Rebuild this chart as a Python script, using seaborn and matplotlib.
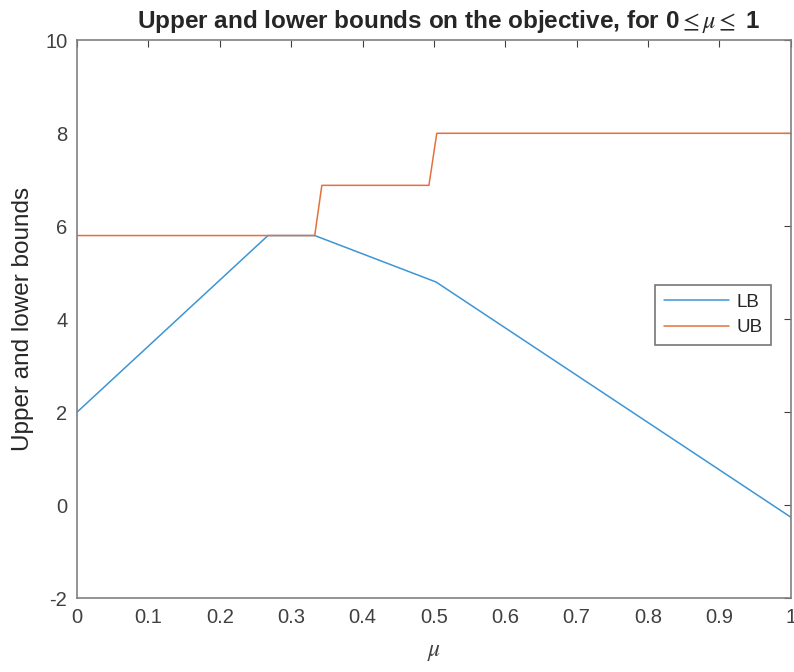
import numpy as np
import pandas as pd
import matplotlib
matplotlib.use("Agg")
import matplotlib.pyplot as plt
import seaborn as sns

# values
mu_lb = [0.0, 0.2675, 0.333, 0.503, 1.0]
lb = [2.0, 5.8, 5.8, 4.8, -0.26]
mu_ub = [0.0, 0.333, 0.343, 0.493, 0.504, 1.0]
ub = [5.8, 5.8, 6.88, 6.88, 8.0, 8.0]

x_ticks = np.round(np.arange(0, 1.01, 0.1), 1)
y_ticks = [-2, 0, 2, 4, 6, 8, 10]

df = pd.concat([
    pd.DataFrame({"mu": mu_lb, "value": lb, "series": "LB"}),
    pd.DataFrame({"mu": mu_ub, "value": ub, "series": "UB"}),
])

sns.set_theme(style="white")
plt.rcParams["font.family"] = ["Liberation Sans", "DejaVu Sans"]
plt.rcParams["mathtext.fontset"] = "stix"
plt.rcParams["axes.unicode_minus"] = False

fig = plt.figure(figsize=(7.94, 6.72), dpi=100)
ax = fig.add_axes([0.097, 0.110, 0.899, 0.830])

sns.lineplot(
    data=df, x="mu", y="value", hue="series",
    palette={"LB": "#3D95D4", "UB": "#E4703F"},
    estimator=None, sort=False, linewidth=1.1, ax=ax,
)

ax.set_xlim(0, 1)
ax.set_ylim(-2, 10)
ax.set_xticks(x_ticks)
ax.set_xticklabels([f"{t:g}" for t in x_ticks])
ax.set_yticks(y_ticks)
ax.tick_params(direction="in", length=5, width=0.8, colors="#404040",
               labelsize=14.5, top=True, right=True, pad=7)
for s in ax.spines.values():
    s.set_color("#808080")
    s.set_linewidth(1.2)

ax.set_xlabel(r"$\mu$", fontsize=17, color="#404040", labelpad=10)
ax.set_ylabel("Upper and lower bounds", fontsize=17.5, color="#262626", labelpad=8)
ax.set_title(r"Upper and lower bounds on the objective, for 0$\leq\mu\leq$ 1",
             fontsize=17.5, fontweight="bold", pad=9, x=0.52)

leg = ax.legend(loc="upper left", bbox_to_anchor=(0.797, 0.578), fontsize=13.5,
                frameon=True, fancybox=False, handlelength=3.5, borderpad=0.45,
                labelspacing=0.45, handletextpad=0.4)
leg.get_frame().set_edgecolor("#555555")
leg.get_frame().set_linewidth(1.2)

fig.savefig("out.png", dpi=100)
